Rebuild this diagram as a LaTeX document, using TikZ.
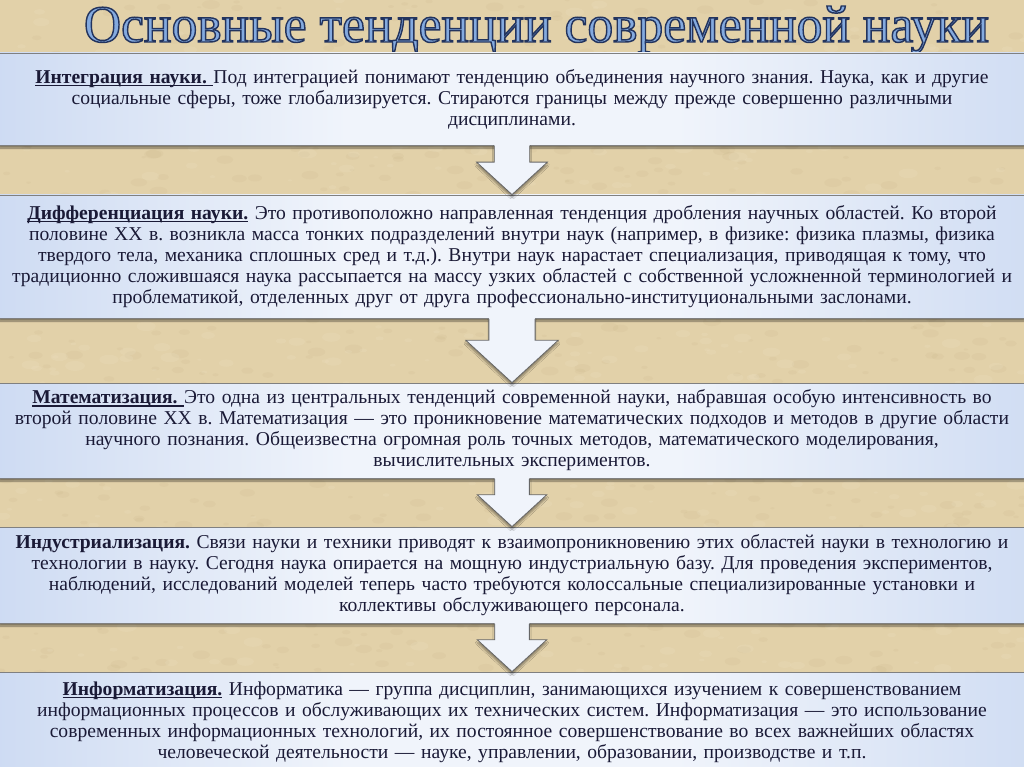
\documentclass[tikz,border=0pt]{standalone}
\usepackage{fontspec}
\setmainfont{Liberation Serif}
\usetikzlibrary{calc,shadows.blur}
\definecolor{bgbeige}{HTML}{E2D1A9}
\definecolor{bgdark}{HTML}{B9A477}
\definecolor{bglight}{HTML}{F3E9D0}
\definecolor{pl}{HTML}{7B9FDD}
\definecolor{pm}{HTML}{C8D7F1}
\definecolor{pw}{HTML}{F0F4FB}
\definecolor{txt}{HTML}{1A1A36}
\definecolor{titleblue}{HTML}{84AADF}
\pgfdeclarehorizontalshading{panelsh}{100bp}{color(0bp)=(pl); color(22bp)=(pm); color(42bp)=(pw); color(58bp)=(pw); color(80bp)=(pm); color(100bp)=(pl)}
\tikzset{
  panel/.style={shading=panelsh, draw=black!50, line width=0.8pt, minimum width=1026pt,
    text width=1014pt, align=center, inner sep=0pt, text=txt,
    font=\fontsize{19.6}{21}\selectfont\frenchspacing,
    blur shadow={shadow xshift=0pt, shadow yshift=-3pt, shadow blur steps=6, shadow opacity=45}},
  arrowfill/.style={fill=pw},
  arrowline/.style={draw=black!60, line width=0.8pt, line join=miter},
}
\newcommand\hd[1]{\leavevmode\sbox0{\textbf{#1}}\rlap{\rule[-2.6pt]{\wd0}{1.1pt}}\usebox0}
\newcommand\outlinetext[1]{\special{pdf:literal direct 2 Tr 1.1 w 0.137 0.204 0.369 RG}#1\special{pdf:literal direct 0 Tr}}
\newcommand\bandarrow[2]{%
  \fill[arrowfill, blur shadow={shadow xshift=0pt, shadow yshift=-3pt, shadow blur steps=5, shadow opacity=40}]
    let \p1=(#1.south), \p2=(#2.north), \n1={\y1-\y2} in
    (\x1-0.36*\n1,\y1+1.5) -- (\x1-0.36*\n1,\y1-0.34*\n1) -- (\x1-0.72*\n1,\y1-0.34*\n1)
    -- (\x1,\y2) -- (\x1+0.72*\n1,\y1-0.34*\n1) -- (\x1+0.36*\n1,\y1-0.34*\n1)
    -- (\x1+0.36*\n1,\y1+1.5) -- cycle;
  \draw[arrowline] let \p1=(#1.south), \p2=(#2.north), \n1={\y1-\y2} in
    (\x1-0.36*\n1,\y1-0.4) -- (\x1-0.36*\n1,\y1-0.34*\n1) -- (\x1-0.72*\n1,\y1-0.34*\n1)
    -- (\x1,\y2) -- (\x1+0.72*\n1,\y1-0.34*\n1) -- (\x1+0.36*\n1,\y1-0.34*\n1)
    -- (\x1+0.36*\n1,\y1-0.4);
}
\begin{document}
\begin{tikzpicture}[x=1pt,y=-1pt]
\useasboundingbox (0,0) rectangle (1024,767);
\fill[bgbeige] (0,0) rectangle (1024,767);
\pgfmathsetseed{11}
\foreach \i in {1,...,900}{
  \pgfmathsetmacro\rx{rnd*1024}
  \pgfmathsetmacro\ry{rnd*767}
  \pgfmathsetmacro\rr{2+rnd*7}
  \fill[bgdark, opacity=0.09] (\rx,\ry) ellipse ({\rr} and {\rr*0.5});
}
\foreach \i in {1,...,700}{
  \pgfmathsetmacro\rx{rnd*1024}
  \pgfmathsetmacro\ry{rnd*767}
  \pgfmathsetmacro\rr{2+rnd*8}
  \fill[bglight, opacity=0.14] (\rx,\ry) ellipse ({\rr} and {\rr*0.5});
}
% title
\node[anchor=base, inner sep=0pt, text=titleblue] (title) at (536.5,42) {\resizebox{905pt}{36pt}{\fontsize{40}{40}\selectfont\outlinetext{Основные тенденции современной науки}}};
% panels
\node[panel, minimum height=92pt] (p1) at (512,99) {\hd{Интеграция науки.\ }Под интеграцией понимают тенденцию объединения научного знания. Наука, как и другие\\ социальные сферы, тоже глобализируется. Стираются границы между прежде совершенно различными\\ дисциплинами.};
\node[panel, minimum height=123pt] (p2) at (512,256.5) {\hd{Дифференциация науки.} Это противоположно направленная тенденция дробления научных областей. Ко второй\\ половине XX в. возникла масса тонких подразделений внутри наук (например, в физике: физика плазмы, физика\\ твердого тела, механика сплошных сред и т.д.). Внутри наук нарастает специализация, приводящая к тому, что\\ традиционно сложившаяся наука рассыпается на массу узких областей с собственной усложненной терминологией и\\ проблематикой, отделенных друг от друга профессионально-институциональными заслонами.};
\node[panel, minimum height=95pt] (p3) at (512,430.5) {\hd{Математизация.\ }Это одна из центральных тенденций современной науки, набравшая особую интенсивность во\\ второй половине XX в. Математизация — это проникновение математических подходов и методов в другие области\\ научного познания. Общеизвестна огромная роль точных методов, математического моделирования,\\ вычислительных экспериментов.};
\node[panel, minimum height=96pt] (p4) at (512,575) {\textbf{Индустриализация.} Связи науки и техники приводят к взаимопроникновению этих областей науки в технологию и\\ технологии в науку. Сегодня наука опирается на мощную индустриальную базу. Для проведения экспериментов,\\ наблюдений, исследований моделей теперь часто требуются колоссальные специализированные установки и\\ коллективы обслуживающего персонала.};
\node[panel, minimum height=100pt] (p5) at (512,722) {\hd{Информатизация.} Информатика — группа дисциплин, занимающихся изучением к совершенствованием\\ информационных процессов и обслуживающих их технических систем. Информатизация — это использование\\ современных информационных технологий, их постоянное совершенствование во всех важнейших областях\\ человеческой деятельности — науке, управлении, образовании, производстве и т.п.};
% arrows
\bandarrow{p1}{p2}
\bandarrow{p2}{p3}
\bandarrow{p3}{p4}
\bandarrow{p4}{p5}
\end{tikzpicture}
\end{document}
